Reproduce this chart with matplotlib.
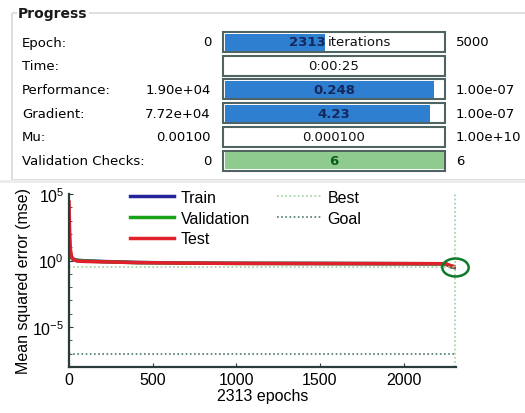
import numpy as np
import matplotlib
matplotlib.use("Agg")
import matplotlib.pyplot as plt
from matplotlib.patches import Rectangle
from matplotlib.path import Path

plt.rcParams['font.family'] = ['Liberation Sans', 'DejaVu Sans']
plt.rcParams['mathtext.fontset'] = 'custom'
plt.rcParams['mathtext.rm'] = 'Liberation Sans'
plt.rcParams['mathtext.it'] = 'Liberation Sans:italic'

# progress panel
row_names = ['Epoch:', 'Time:', 'Performance:', 'Gradient:', 'Mu:', 'Validation Checks:']
row_start = ['0', '', '1.90e+04', '7.72e+04', '0.00100', '0']
row_value = ['2313 iterations', '0:00:25', '0.248', '4.23', '0.000100', '6']
row_end = ['5000', '', '1.00e-07', '1.00e-07', '1.00e+10', '6']
row_fill = [0.46, 0.0, 0.955, 0.937, 0.0, 1.0]
row_kind = ['blue', 'none', 'blue', 'blue', 'none', 'green']

# training record
epochs = [0, 3, 8, 15, 25, 50, 100, 200, 400, 700, 1000, 1500, 2000, 2250, 2280, 2313]
train = [60, 12, 3.5, 1.8, 1.3, 1.05, 0.95, 0.85, 0.72, 0.65, 0.62, 0.6, 0.58, 0.57, 0.35, 0.28]
validation = [50, 10, 3.0, 1.6, 1.2, 1.0, 0.92, 0.82, 0.7, 0.64, 0.61, 0.6, 0.58, 0.57, 0.38, 0.3]
test = [2.5e4, 300, 8, 2.0, 1.2, 0.9, 0.85, 0.8, 0.7, 0.64, 0.61, 0.6, 0.59, 0.58, 0.42, 0.33]
best_epoch = 2307
best_perf = 0.3
goal = 1e-7

fig = plt.figure(figsize=(5.25, 4.14), dpi=100)

# panel drawn in pixel coordinates
ax0 = fig.add_axes([0, 0, 1, 1])
ax0.set_xlim(0, 525)
ax0.set_ylim(414, 0)
ax0.axis('off')
ax0.add_patch(Rectangle((12, 14), 520, 167, fill=False, ec='#d9d9d9', lw=1.2))
ax0.add_patch(Rectangle((0, 181), 525, 3, fc='#ececec', ec='none'))
ax0.text(18, 14, 'Progress', fontsize=10, fontweight='bold', va='center', ha='left',
         family=['DejaVu Sans'], color='#1a1a1a', bbox=dict(fc='white', ec='none', pad=1))

bar_x0, bar_w, bar_h = 223, 222, 20
for i, name in enumerate(row_names):
    yc = 43 + i * 23.7
    ax0.text(22, yc, name, fontsize=9.5, va='center', ha='left', family=['DejaVu Sans'])
    ax0.text(211, yc, row_start[i], fontsize=9.5, va='center', ha='right', family=['DejaVu Sans'])
    ax0.text(456, yc, row_end[i], fontsize=9.5, va='center', ha='left', family=['DejaVu Sans'])
    ax0.add_patch(Rectangle((bar_x0, yc - bar_h / 2), bar_w, bar_h, fc='white', ec='#4f6363', lw=1.5))
    if row_kind[i] == 'blue':
        ax0.add_patch(Rectangle((bar_x0 + 1.5, yc - bar_h / 2 + 1.5), (bar_w - 3) * row_fill[i],
                                bar_h - 3, fc='#2f7fd0', ec='none'))
        tc, fw = '#14285e', 'semibold'
    elif row_kind[i] == 'green':
        ax0.add_patch(Rectangle((bar_x0 + 1.5, yc - bar_h / 2 + 1.5), (bar_w - 3) * row_fill[i],
                                bar_h - 3, fc='#8fcb8f', ec='none'))
        tc, fw = '#0b5a1f', 'semibold'
    else:
        tc, fw = '#111111', 'normal'
    if i == 0:
        ax0.text(bar_x0 + bar_w / 2 - 8, yc, '2313', fontsize=9.5, va='center', ha='right',
                 color=tc, fontweight='semibold', family=['DejaVu Sans'])
        ax0.text(bar_x0 + bar_w / 2 - 6, yc, 'iterations', fontsize=9.5, va='center', ha='left',
                 color='#111111', family=['DejaVu Sans'])
    else:
        ax0.text(bar_x0 + bar_w / 2, yc, row_value[i], fontsize=9.5, va='center', ha='center',
                 color=tc, fontweight=fw, family=['DejaVu Sans'])

# performance plot
ax = fig.add_axes([69 / 525, (414 - 368) / 414, (456 - 69) / 525, (368 - 195) / 414])
ax.set_yscale('log')
ln_tr, = ax.plot(epochs, train, color='#23239a', lw=2.5)
ln_va, = ax.plot(epochs, validation, color='#1aa31a', lw=2.5)
ln_te, = ax.plot(epochs, test, color='#e0202a', lw=2.5)
ln_best = ax.axhline(best_perf, color='#9fd09f', lw=1.2, ls=(0, (1, 1.5)))
ax.axvline(best_epoch, color='#9fd09f', lw=1.2, ls=(0, (1, 1.5)))
ln_goal = ax.axhline(goal, color='#4e7a6a', lw=1.2, ls=(0, (1, 1.5)))
circ = Path(Path.unit_circle().vertices * np.array([1.0, 0.68]), Path.unit_circle().codes)
ax.plot([best_epoch], [best_perf], marker=circ, ms=19, mfc='none', mec='#0f7a2a', mew=1.8,
        clip_on=False, zorder=5)

ax.set_xlim(0, 2313)
ax.set_ylim(1e-8, 1e5)
ax.set_xticks([0, 500, 1000, 1500, 2000])
ax.set_yticks([1e-5, 1e0, 1e5])
ax.set_yticks(10.0 ** np.arange(-8, 6), minor=True)
ax.set_yticklabels([], minor=True)
ax.tick_params(direction='in', labelsize=11.5, color='#2b3a3a', length=3)
ax.tick_params(which='minor', direction='in', length=2, color='#2b3a3a')
for s in ['top', 'right']:
    ax.spines[s].set_visible(False)
for s in ['left', 'bottom']:
    ax.spines[s].set_color('#2b3a3a')
    ax.spines[s].set_linewidth(1.6)
ax.set_xlabel('2313 epochs', fontsize=11.5, labelpad=1)
ax.set_ylabel('Mean squared error (mse)', fontsize=11.5, labelpad=1)

leg1 = ax.legend([ln_tr, ln_va, ln_te], ['Train', 'Validation', 'Test'], loc='upper left',
                 bbox_to_anchor=(0.14, 1.06), frameon=False, fontsize=11.5, handlelength=2.8,
                 handletextpad=0.4, labelspacing=0.35, borderaxespad=0)
ax.add_artist(leg1)
ax.legend([ln_best, ln_goal], ['Best', 'Goal'], loc='upper left', bbox_to_anchor=(0.52, 1.06),
          frameon=False, fontsize=11.5, handlelength=2.8, handletextpad=0.4, labelspacing=0.35,
          borderaxespad=0)

fig.savefig('out.png', dpi=100)
